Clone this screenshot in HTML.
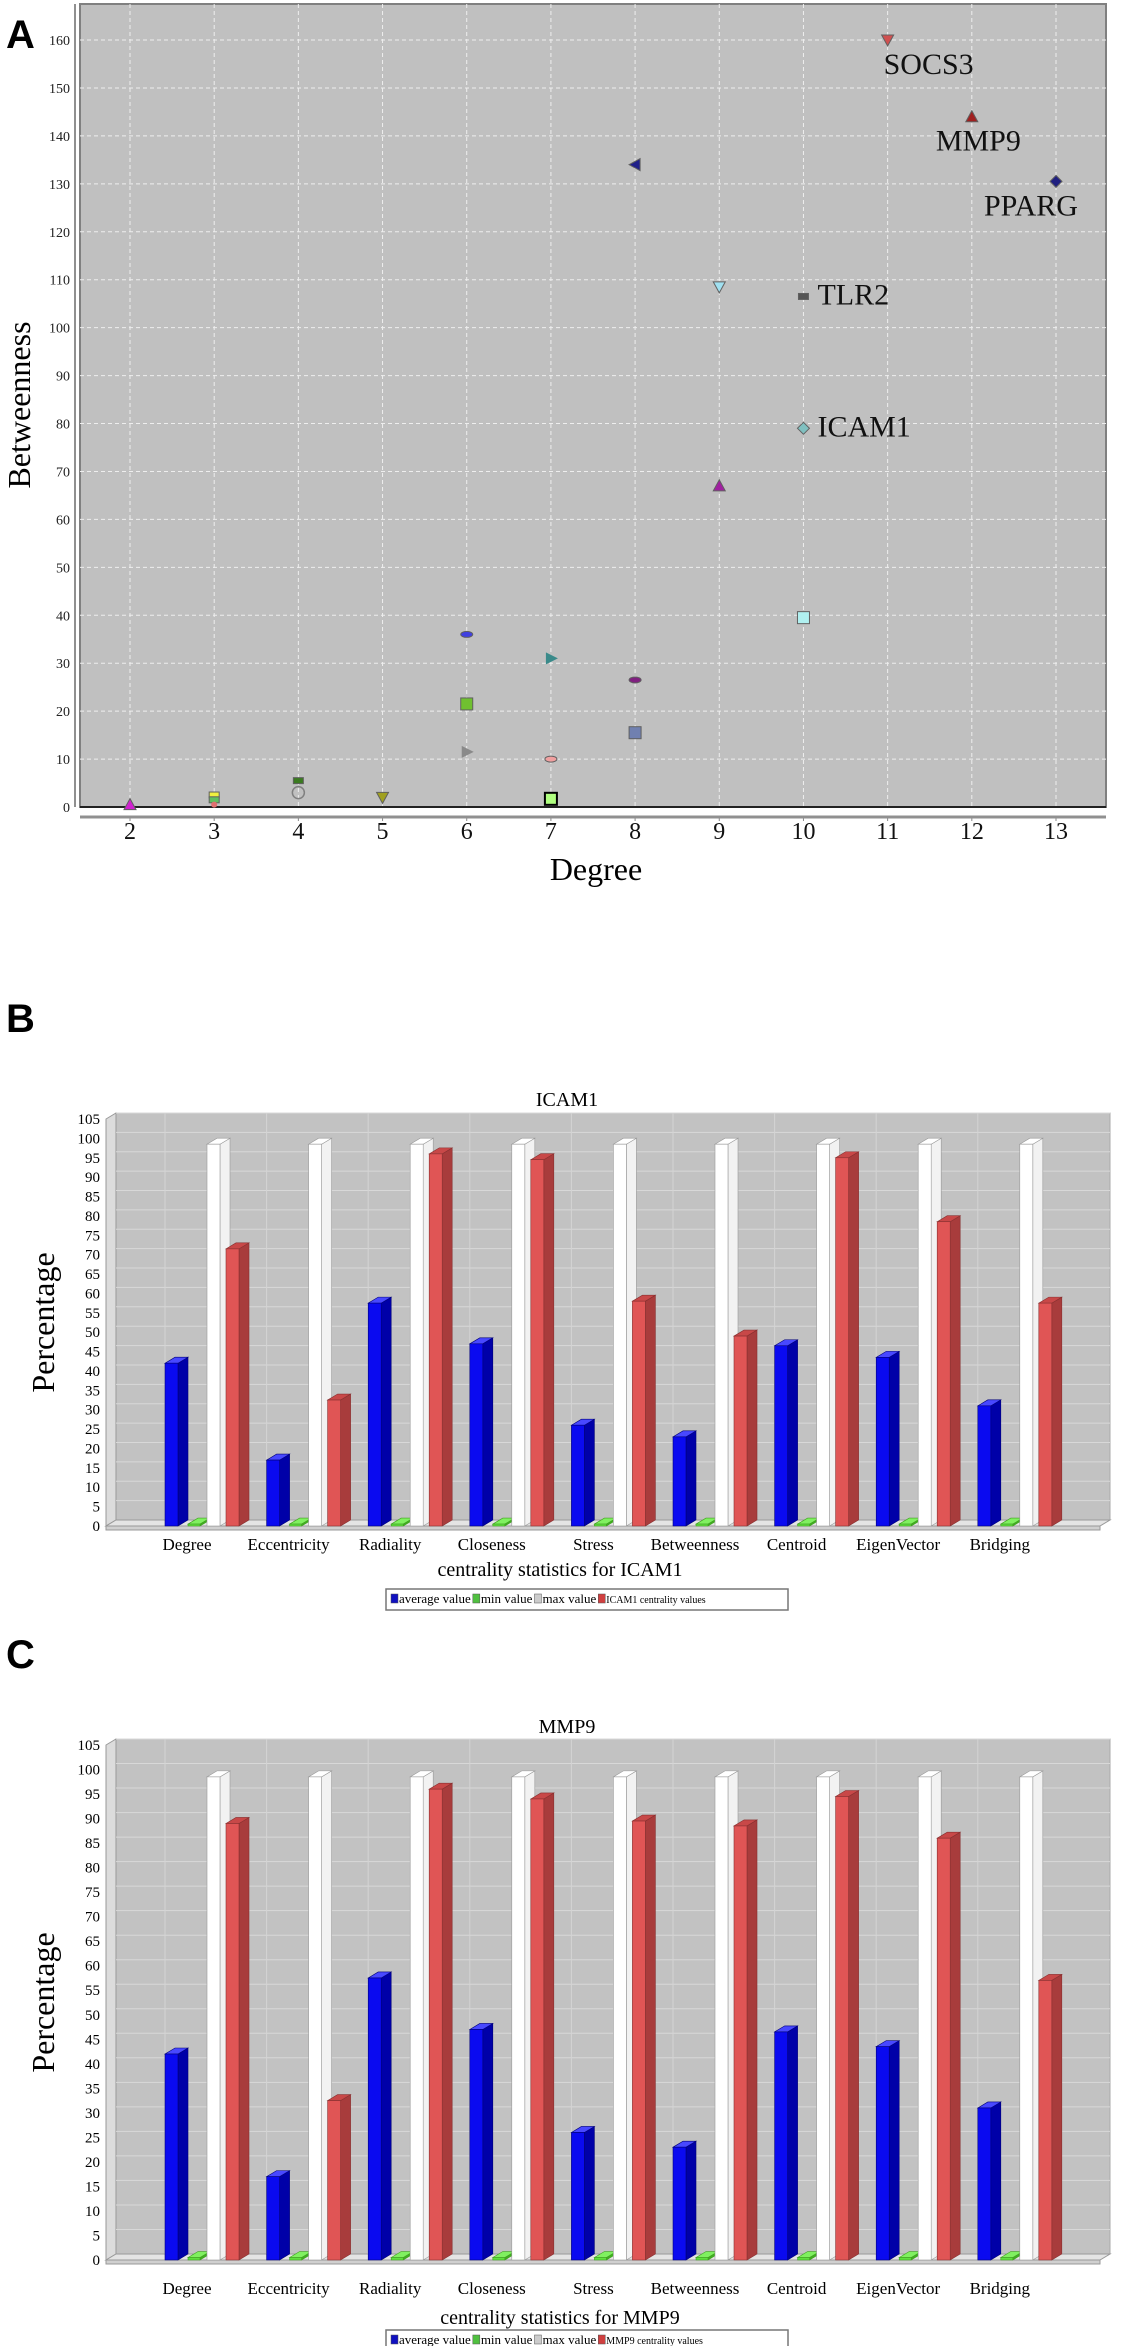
<!DOCTYPE html>
<html><head><meta charset="utf-8">
<style>
html,body{margin:0;padding:0;background:#fff;}
svg{display:block;font-family:"Liberation Serif",serif;}
</style></head>
<body>
<svg id="root" width="1124" height="2346" viewBox="0 0 1124 2346" xmlns="http://www.w3.org/2000/svg">
<text x="6" y="48" font-family="Liberation Sans, sans-serif" font-weight="bold" font-size="40">A</text>
<text x="6" y="1032" font-family="Liberation Sans, sans-serif" font-weight="bold" font-size="40">B</text>
<text x="6" y="1668" font-family="Liberation Sans, sans-serif" font-weight="bold" font-size="40">C</text>
<g id="scatter"></g>
<g id="barB"></g>
<g id="barC"></g>
</svg>
<script>
// ---------- Scatter data ----------
const degrees     = [2,   3, 3, 3,   4,   4, 5, 6,  6,   6,   7,  7,  7,   8,   8,    8,    9,     9,  10,    10, 10,   11,  12,  13];
const betweenness = [0.5, 2.5, 1.5, 0.5, 5.5, 3, 2, 36, 21.5, 11.5, 31, 10, 1.5, 134, 26.5, 15.5, 108.5, 67, 106.5, 79, 39.5, 160, 144, 130.5];
const shapes      = ['tri','rect','rect','circ','rect','circle','dtri','ell','sq','rtri','rtri','ell','sqb','ltri','ell','sq','dtri','tri','rect','diam','sq','dtri','tri','diam'];
const colors      = ['#d020d0','#f0f040','#60c060','#e07070','#3a7a20','none','#a0a020','#4040e0','#70c030','#8a8a8a','#3a8a8a','#f0a0a0','#b0ff80','#20208a','#802080','#7080b0','#a0e0f0','#a020a0','#555555','#80c0c0','#b0f0f0','#d05050','#a02020','#202080'];
const pointLabels = ['','','','','','','','','','','','','','','','','','','TLR2','ICAM1','','SOCS3','MMP9','PPARG'];
const xTicks = [2,3,4,5,6,7,8,9,10,11,12,13];
const yTicks = [0,10,20,30,40,50,60,70,80,90,100,110,120,130,140,150,160];

// ---------- Bar data ----------
const categories = ['Degree','Eccentricity','Radiality','Closeness','Stress','Betweenness','Centroid','EigenVector','Bridging'];
const avgValues  = [42, 17, 57.5, 47, 26, 23, 46.5, 43.5, 31];
const minValues  = [0.5,0.5,0.5,0.5,0.5,0.5,0.5,0.5,0.5];
const maxValues  = [98.5,98.5,98.5,98.5,98.5,98.5,98.5,98.5,98.5];
const icam1Values = [71.5, 32.5, 96, 94.5, 58, 49, 95, 78.5, 57.5];
const mmp9Values  = [89, 32.5, 96, 94, 89.5, 88.5, 94.5, 86, 57];
const barTicks = [0,5,10,15,20,25,30,35,40,45,50,55,60,65,70,75,80,85,90,95,100,105];

const NS='http://www.w3.org/2000/svg';
function mk(parent,tag,attrs,text){const e=document.createElementNS(NS,tag);for(const k in attrs)e.setAttribute(k,attrs[k]);if(text!==undefined)e.textContent=text;parent.appendChild(e);return e;}

// ---------- Scatter ----------
(function(){
  const g=document.getElementById('scatter');
  const L=80,R=1106,T=4,B=807;
  const xS=d=>130+(d-2)*(1056-130)/11;
  const yS=v=>807-v*(807-40)/160;
  const bg=mk(g,'rect',{x:L,y:T,width:R-L,height:B-T,fill:'#c0c0c0',stroke:'#808080','stroke-width':2});
  
  
  mk(g,'line',{x1:L-5,y1:T,x2:L-5,y2:B,stroke:'#909090','stroke-width':2});
  yTicks.forEach(t=>{
    const y=yS(t);
    if(t>0){const gl=mk(g,'line',{x1:L,y1:y,x2:R,y2:y,stroke:'#eeeeee','stroke-dasharray':'4,3','stroke-width':1});
      }
    const tl=mk(g,'text',{x:L-10,y:y+5,'text-anchor':'end','font-size':14,fill:'#222'},t);
    
  });
  xTicks.forEach(t=>{
    const x=xS(t);
    const gl=mk(g,'line',{x1:x,y1:T,x2:x,y2:B,stroke:'#eeeeee','stroke-dasharray':'4,3','stroke-width':1});
    
    mk(g,'line',{x1:x,y1:B+9,x2:x,y2:B+14,stroke:'#888'});
    const tl=mk(g,'text',{x:x,y:839,'text-anchor':'middle','font-size':24,fill:'#111'},t);
    
  });
  mk(g,'line',{x1:L,y1:B,x2:R,y2:B,stroke:'#222','stroke-width':2});
  mk(g,'line',{x1:L,y1:B+10,x2:R,y2:B+10,stroke:'#909090','stroke-width':3});
  const xt=mk(g,'text',{x:596,y:880,'text-anchor':'middle','font-size':32},'Degree');
  
  const yt=mk(g,'text',{x:0,y:0,'text-anchor':'middle','font-size':32,transform:'translate(30,405) rotate(-90)'},'Betweenness');
  
  degrees.forEach((d,i)=>{
    const x=xS(d),y=yS(betweenness[i]),c=colors[i],s=shapes[i];
    let el;const st='#606060';
    if(s==='tri')el=mk(g,'polygon',{points:`${x},${y-6} ${x-6},${y+5} ${x+6},${y+5}`,fill:c,stroke:st});
    else if(s==='dtri')el=mk(g,'polygon',{points:`${x},${y+6} ${x-6},${y-5} ${x+6},${y-5}`,fill:c,stroke:st});
    else if(s==='rtri')el=mk(g,'polygon',{points:`${x+7},${y} ${x-5},${y-6} ${x-5},${y+6}`,fill:c,stroke:'none'});
    else if(s==='ltri')el=mk(g,'polygon',{points:`${x-6},${y} ${x+5},${y-6} ${x+5},${y+6}`,fill:c,stroke:st});
    else if(s==='rect')el=mk(g,'rect',{x:x-5,y:y-3,width:10,height:6,fill:c,stroke:st});
    else if(s==='sq')el=mk(g,'rect',{x:x-6,y:y-6,width:12,height:12,fill:c,stroke:st});
    else if(s==='sqb')el=mk(g,'rect',{x:x-6,y:y-7,width:12,height:12,fill:c,stroke:'#000','stroke-width':2});
    else if(s==='ell')el=mk(g,'ellipse',{cx:x,cy:y,rx:6,ry:3,fill:c,stroke:st});
    else if(s==='circle')el=mk(g,'circle',{cx:x,cy:y,r:6,fill:'none',stroke:'#808080','stroke-width':1.5});
    else if(s==='circ')el=mk(g,'circle',{cx:x,cy:y,r:3,fill:c,stroke:'none'});
    else el=mk(g,'polygon',{points:`${x},${y-6} ${x+6},${y} ${x},${y+6} ${x-6},${y}`,fill:c,stroke:st});
    
    
    if(pointLabels[i]){
      let tx=x+14,ty=y+8;
      if(pointLabels[i]==='SOCS3'){tx=x-4;ty=y+34;}
      if(pointLabels[i]==='MMP9'){tx=x-36;ty=y+34;}
      if(pointLabels[i]==='PPARG'){tx=x-72;ty=y+34;}
      const lt=mk(g,'text',{x:tx,y:ty,'font-size':30,fill:'#111'},pointLabels[i]);
      
    }
  });
})();

// ---------- 3D bar chart ----------
function barChart(gid,title,vals,yTop,y0,titleY,catY,axY,legY,gene){
  const g=document.getElementById(gid);
  const x0=106,x1=1100,dx=10,dy=6;
  const yS=v=>y0-v*(y0-yTop)/105;
  mk(g,'rect',{x:x0+dx,y:yTop-dy,width:x1-x0,height:y0-yTop,fill:'#c2c2c2',stroke:'#aaa'});
  mk(g,'polygon',{points:`${x0},${yTop} ${x0+dx},${yTop-dy} ${x0+dx},${y0-dy} ${x0},${y0}`,fill:'#dcdcdc',stroke:'#999'});
  mk(g,'polygon',{points:`${x0},${y0} ${x0+dx},${y0-dy} ${x1+dx},${y0-dy} ${x1},${y0}`,fill:'#e4e4e4',stroke:'#999'});
  mk(g,'rect',{x:x0,y:y0,width:x1-x0,height:4,fill:'#d0d0d0',stroke:'#999'});
  const tt=mk(g,'text',{x:567,y:titleY,'text-anchor':'middle','font-size':20},title);
  
  barTicks.forEach(t=>{
    const y=yS(t);
    if(t>0){const gl=mk(g,'line',{x1:x0+dx,y1:y-dy,x2:x1+dx,y2:y-dy,stroke:'#d8d8d8','stroke-width':1});
      }
    const tl=mk(g,'text',{x:100,y:y+5,'text-anchor':'end','font-size':15},t);
    
  });
  const sp=101.6;
  function bar3d(x,v,w,front,side,top,stroke,name){
    const yv=yS(v);
    const gg=mk(g,'g',{});
    
    
    mk(gg,'polygon',{points:`${x+w},${yv} ${x+w+dx},${yv-dy} ${x+w+dx},${y0-dy} ${x+w},${y0}`,fill:side,stroke:stroke,'stroke-width':0.6});
    mk(gg,'polygon',{points:`${x},${yv} ${x+dx},${yv-dy} ${x+w+dx},${yv-dy} ${x+w},${yv}`,fill:top,stroke:stroke,'stroke-width':0.6});
    mk(gg,'rect',{x:x,y:yv,width:w,height:y0-yv,fill:front,stroke:stroke,'stroke-width':0.6});
  }
  categories.forEach((c,i)=>{
    const w=207+i*sp;
    const vl=mk(g,'line',{x1:w-52+dx,y1:yTop-dy,x2:w-52+dx,y2:y0-dy,stroke:'#d4d4d4'});
    
    bar3d(w-42,avgValues[i],13,'#0a0af0','#0000a8','#4848ff','#00007a','bar-average-'+c.toLowerCase());
    bar3d(w-19,minValues[i],12,'#60e040','#40b020','#80f060','#40a020','bar-min-'+c.toLowerCase());
    bar3d(w,maxValues[i],13,'#ffffff','#f2f2f2','#ffffff','#999','bar-max-'+c.toLowerCase());
    bar3d(w+19,vals[i],13,'#e05555','#a83c3c','#c84848','#883030','bar-'+gene.toLowerCase()+'-'+c.toLowerCase());
    const cl=mk(g,'text',{x:w-20,y:catY,'text-anchor':'middle','font-size':17},c);
    
  });
  const at=mk(g,'text',{x:560,y:axY,'text-anchor':'middle','font-size':20},'centrality statistics for '+gene);
  
  const yt=mk(g,'text',{x:0,y:0,'text-anchor':'middle','font-size':32,transform:`translate(54,${(yTop+y0)/2}) rotate(-90)`},'Percentage');
  
  const lg=mk(g,'g',{});
  
  
  mk(lg,'rect',{x:386,y:legY-14,width:402,height:21,fill:'#fff',stroke:'#777','stroke-width':1.5});
  const items=[['#1010c0','average value',13],['#50c040','min value',13],['#cccccc','max value',13],['#d04040',gene+' centrality values',10]];
  let lx=391;
  items.forEach(it=>{
    mk(lg,'rect',{x:lx,y:legY-9,width:7,height:9,fill:it[0],stroke:'#555','stroke-width':0.5});
    const t=mk(lg,'text',{x:lx+8,y:legY,'font-size':it[2]},it[1]);
    
    
    lx+=8+t.getComputedTextLength()+2;
  });
}
barChart('barB','ICAM1',icam1Values,1119,1526,1106,1550,1576,1603,'ICAM1');
barChart('barC','MMP9',mmp9Values,1745,2260,1745-12,2294,2324,2344,'MMP9');
</script>
</body></html>
